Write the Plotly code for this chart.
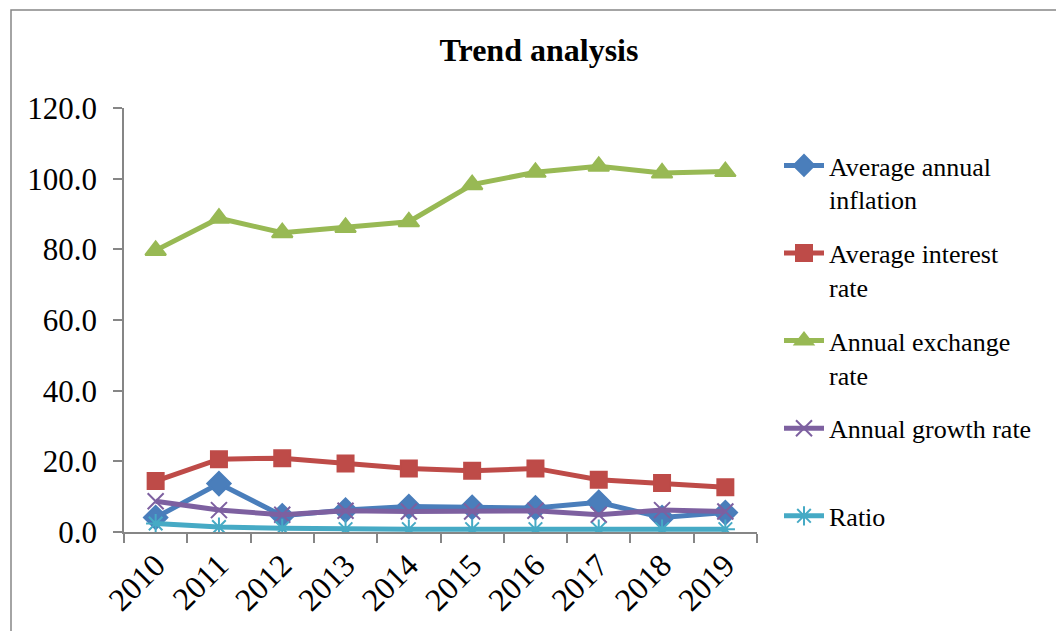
import plotly.graph_objects as go

years = ["2010", "2011", "2012", "2013", "2014", "2015", "2016", "2017", "2018", "2019"]
inflation = [4.1, 13.7, 4.6, 6.2, 7.2, 7.0, 6.8, 8.4, 4.1, 5.5]
interest = [14.4, 20.6, 20.9, 19.4, 18.0, 17.3, 18.0, 14.8, 13.9, 12.7]
exchange = [79.7, 88.8, 84.7, 86.2, 87.8, 98.3, 101.8, 103.5, 101.6, 102.0]
growth = [8.7, 6.2, 4.9, 6.0, 5.8, 5.8, 6.0, 4.9, 6.2, 5.8]
ratio = [2.4, 1.4, 1.05, 0.8, 0.8, 0.8, 0.8, 0.8, 0.8, 0.8]

names = ["Average annual<br>inflation", "Average interest<br>rate", "Annual exchange<br>rate",
         "Annual growth rate<br> ", "Ratio<br> "]
colors = ["#4A7EBB", "#BE4B48", "#98B954", "#7D60A0", "#46AAC5"]
symbols = ["diamond", "square", "triangle-up", "x-thin-open", "asterisk-open"]
sizes = [18, 16, 18, 16, 16]
series = [inflation, interest, exchange, growth, ratio]

FONT = "Liberation Serif, Times New Roman, serif"

fig = go.Figure()
for i, (nm, c, s, sz, vals) in enumerate(zip(names, colors, symbols, sizes, series)):
    fig.add_trace(go.Scatter(
        x=years, y=vals, name=nm, mode="lines+markers",
        line=dict(color=c, width=5),
        marker=dict(symbol=s, size=sz, color=c, line=dict(color=c, width=2)),
        legendgroup=f"g{i}",
    ))

fig.update_layout(
    width=1056, height=631,
    margin=dict(l=124, r=299, t=108, b=99),
    paper_bgcolor="white", plot_bgcolor="white",
    font=dict(family=FONT, color="black"),
    title=dict(text="<b>Trend analysis</b>", x=539/1056, xref="container", xanchor="center",
               y=1 - 50/631, yref="container", yanchor="middle",
               font=dict(family=FONT, size=32, color="black")),
    showlegend=True,
    legend=dict(x=(779 - 124) / 633, xanchor="left", y=(532 - 142) / 424, yanchor="top",
                font=dict(family=FONT, size=26, color="black"),
                tracegroupgap=17, valign="top", itemwidth=40, maxheight=620,
                bgcolor="rgba(0,0,0,0)", borderwidth=0),
    xaxis=dict(type="category", range=[-0.5, 9.5], showgrid=False, showline=True,
               linecolor="#868686", linewidth=1.5, ticks="outside", tickson="boundaries",
               ticklen=9, tickcolor="#868686", tickwidth=1.5, tickangle=-45,
               tickfont=dict(family=FONT, size=32, color="black")),
    yaxis=dict(range=[0, 120], dtick=20, tickformat=".1f", showgrid=False, showline=True,
               linecolor="#868686", linewidth=1.5, ticks="outside", ticklen=9,
               tickcolor="#868686", tickwidth=1.5, zeroline=False, ticklabelstandoff=10,
               tickfont=dict(family=FONT, size=31, color="black")),
    shapes=[dict(type="rect", xref="paper", yref="paper",
                 x0=(11 - 124) / 633, x1=(1070 - 124) / 633,
                 y0=(532 - 640) / 424, y1=(532 - 10) / 424,
                 line=dict(color="#868686", width=1.5), fillcolor="rgba(0,0,0,0)", layer="below")],
)

fig.write_html("out.html")
